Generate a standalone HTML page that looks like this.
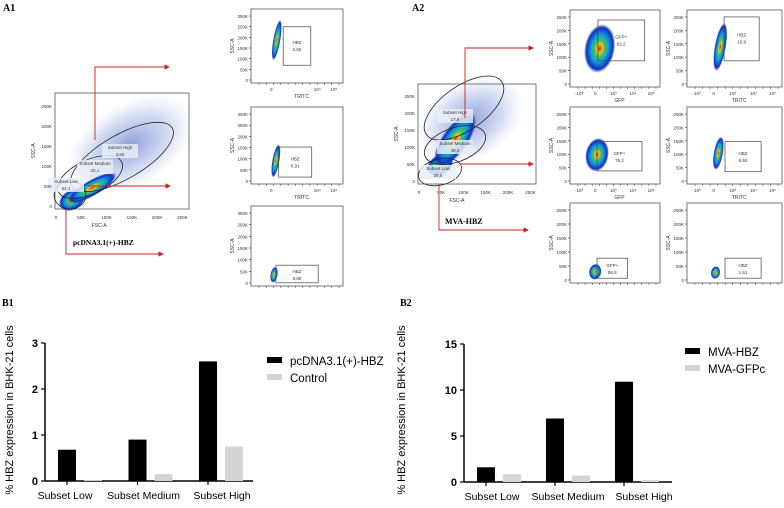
<!DOCTYPE html>
<html><head><meta charset="utf-8"><style>
body{margin:0;background:#fff}
svg{display:block;font-family:"Liberation Sans",sans-serif}
</style></head><body>
<svg id="s" width="784" height="508" viewBox="0 0 784 508">
<defs>
<radialGradient id="heat">
<stop offset="0" stop-color="#e02010"/><stop offset="0.18" stop-color="#f0c020"/><stop offset="0.35" stop-color="#40c060"/><stop offset="0.55" stop-color="#10a0e0"/><stop offset="0.85" stop-color="#1030c0"/><stop offset="1" stop-color="#1030c0" stop-opacity="0"/>
</radialGradient>
<radialGradient id="cloud">
<stop offset="0" stop-color="#3050c0" stop-opacity="0.55"/><stop offset="0.6" stop-color="#6080d0" stop-opacity="0.28"/><stop offset="1" stop-color="#a0b0e0" stop-opacity="0"/>
</radialGradient>
<marker id="arr" markerWidth="6" markerHeight="6" refX="5" refY="3" orient="auto"><path d="M0,0 L6,3 L0,6 z" fill="#d02020"/></marker>
</defs>
<text x="3" y="11" font-family="Liberation Serif" font-weight="bold" font-size="10">A1</text>
<text x="412" y="11" font-family="Liberation Serif" font-weight="bold" font-size="10">A2</text>
<text x="2" y="306" font-family="Liberation Serif" font-weight="bold" font-size="10">B1</text>
<text x="400" y="306" font-family="Liberation Serif" font-weight="bold" font-size="10">B2</text>
<g id="flow"></g>
<g id="b1"></g>
<g id="b2"></g>
</svg>
<script>
// ---- Bar chart data ----
const categories = ["Subset Low", "Subset Medium", "Subset High"];
const b1Series1 = [0.68, 0.9, 2.6];
const b1Series2 = [0.02, 0.15, 0.75];
const b1Ticks = [0, 1, 2, 3];
const b1Legend = ["pcDNA3.1(+)-HBZ", "Control"];
const b2Series1 = [1.6, 6.9, 10.9];
const b2Series2 = [0.85, 0.7, 0.2];
const b2Ticks = [0, 5, 10, 15];
const b2Legend = ["MVA-HBZ", "MVA-GFPc"];

const NS = "http://www.w3.org/2000/svg";
function mk(tag, attrs, parent, txt){
  const e = document.createElementNS(NS, tag);
  for (const k in attrs) e.setAttribute(k, attrs[k]);
  if (txt !== undefined) e.textContent = txt;
  parent.appendChild(e);
  return e;
}

function barChart(g, cfg, s1, s2, ticks, legend){
  const yScale = v => cfg.y0 - (v / cfg.max) * (cfg.y0 - cfg.yTop);
  const xBand = i => cfg.x0 + cfg.firstOff + i * cfg.step;
  let e = mk("line", {x1:cfg.x0, y1:cfg.yTop, x2:cfg.x0, y2:cfg.y0, stroke:"#000", "stroke-width":1.5}, g);
  
  
  e = mk("line", {x1:cfg.x0, y1:cfg.y0, x2:cfg.xEnd, y2:cfg.y0, stroke:"#000", "stroke-width":1.5}, g);
  
  
  ticks.forEach(t => {
    const y = yScale(t);
    mk("line", {x1:cfg.x0-4, y1:y, x2:cfg.x0, y2:y, stroke:"#000", "stroke-width":1.2}, g);
    const lt = mk("text", {x:cfg.x0-7, y:y+4, "font-size":11, "font-weight":"bold", "text-anchor":"end"}, g, t);
    
    
  });
  categories.forEach((c, i) => {
    const bx = xBand(i);
    const r1 = mk("rect", {x:bx, y:yScale(s1[i]), width:cfg.bw, height:cfg.y0 - yScale(s1[i]), fill:"#000"}, g);
    
    
    const r2 = mk("rect", {x:bx + cfg.bw + cfg.gap, y:yScale(s2[i]), width:cfg.bw, height:Math.max(0, cfg.y0 - yScale(s2[i])), fill:"#d4d4d4"}, g);
    
    
    const cx = bx + cfg.bw/2;
    mk("line", {x1:cx, y1:cfg.y0, x2:cx, y2:cfg.y0+4, stroke:"#000", "stroke-width":1.2}, g);
    const lx = cfg.labelStart + i * cfg.labelStep;
    const lt = mk("text", {x:lx, y:cfg.y0+18, "font-size":10.5, "text-anchor":"middle"}, g, c);
    
    
  });
  const yt = mk("text", {x:0, y:0, "font-size":11, "text-anchor":"middle", transform:`translate(${cfg.titleX},${cfg.titleY}) rotate(-90)`}, g, "% HBZ expression in BHK-21 cells");
  
  
  legend.forEach((l, i) => {
    const ly = cfg.legY + i * 17;
    const r = mk("rect", {x:cfg.legX, y:ly-5, width:15, height:6, fill: i ? "#d4d4d4" : "#000"}, g);
    
    
    const t = mk("text", {x:cfg.legX+23, y:ly+3, "font-size":11.5}, g, l);
    
    
  });
}
barChart(document.getElementById("b1"),
  {x0:45, y0:481, yTop:343, max:3, xEnd:253, firstOff:13, step:70.5, bw:18, gap:8, labelStart:65, labelStep:78.5, titleX:13, titleY:410, legX:267, legY:362},
  b1Series1, b1Series2, b1Ticks, b1Legend);
barChart(document.getElementById("b2"),
  {x0:464, y0:482, yTop:344, max:15, xEnd:672, firstOff:13, step:69, bw:18, gap:8, labelStart:492, labelStep:76, titleX:405, titleY:410, legX:685, legY:353},
  b2Series1, b2Series2, b2Ticks, b2Legend);

// ---- Flow cytometry panels (illustrative) ----
const flow = document.getElementById("flow");
function smallPlot(name, x, y, w, h, yLabels, xLabels, xTitle, blob, gate, gateText){
  const g = mk("g", {}, flow);
  
  
  mk("rect", {x, y, width:w, height:h, fill:"#fff", stroke:"#555", "stroke-width":0.8}, g);
  yLabels.forEach((l, i) => {
    const yy = y + h - 3 - i * (h - 10) / (yLabels.length - 1);
    mk("line", {x1:x-2, y1:yy, x2:x, y2:yy, stroke:"#333", "stroke-width":0.6}, g);
    mk("text", {x:x-3, y:yy+2, "font-size":4.5, "text-anchor":"end", fill:"#333"}, g, l);
  });
  mk("text", {x:0, y:0, "font-size":5, "text-anchor":"middle", fill:"#333", transform:`translate(${x-17},${y+h/2}) rotate(-90)`}, g, "SSC-A");
  xLabels.forEach(([fx, l]) => {
    mk("text", {x:x + fx*w, y:y+h+8, "font-size":4.5, "text-anchor":"middle", fill:"#333"}, g, l);
  });
  for (let i = 0; i < 12; i++) mk("line", {x1:x+8+i*(w-12)/11, y1:y+h, x2:x+8+i*(w-12)/11, y2:y+h+2, stroke:"#333", "stroke-width":0.5}, g);
  if (xTitle) mk("text", {x:x + w*0.55, y:y+h+15, "font-size":5, "text-anchor":"middle", fill:"#333"}, g, xTitle);
  mk("ellipse", {cx:x+blob[0]*w, cy:y+blob[1]*h, rx:blob[2]*w, ry:blob[3]*h, fill:"url(#heat)", transform:`rotate(10 ${x+blob[0]*w} ${y+blob[1]*h})`}, g);
  const gx = x + gate[0]*w, gy = y + gate[1]*h, gw = (gate[2]-gate[0])*w, gh = (gate[3]-gate[1])*h;
  mk("rect", {x:gx, y:gy, width:gw, height:gh, fill:"none", stroke:"#444", "stroke-width":0.7}, g);
  mk("text", {x:gx+gw*0.5, y:gy+gh*0.45, "font-size":4.5, "text-anchor":"middle", fill:"#333"}, g, gateText[0]);
  mk("text", {x:gx+gw*0.5, y:gy+gh*0.45+7, "font-size":4.5, "text-anchor":"middle", fill:"#333"}, g, gateText[1]);
}
const y350 = ["0","50K","100K","150K","200K","250K","350K"];
const y250 = ["0","50K","100K","150K","200K","250K"];
const xT = [[0.72,"10⁴"],[0.9,"10⁵"],[0.22,"0"]];
const xG = [[0.1,"-10³"],[0.28,"0"],[0.48,"10³"],[0.7,"10⁴"],[0.9,"10⁵"]];
smallPlot("a1-plot-high", 251, 9, 92, 74, y350, xT, "TRITC", [0.28,0.42,0.04,0.28], [0.35,0.24,0.65,0.76], ["HBZ","2,60"]);
smallPlot("a1-plot-medium", 251, 107, 92, 77, y350, xT, "TRITC", [0.27,0.7,0.04,0.22], [0.3,0.52,0.66,0.91], ["HBZ","0,91"]);
smallPlot("a1-plot-low", 251, 206, 92, 80, y350, [], "", [0.25,0.86,0.04,0.1], [0.27,0.74,0.73,0.96], ["HBZ","0,88"]);
smallPlot("a2-gfp-high", 570, 10, 90, 77, y250, xG, "GFP", [0.33,0.5,0.17,0.32], [0.31,0.13,0.83,0.66], ["GFP+","92,2"]);
smallPlot("a2-gfp-medium", 570, 107, 90, 77, y250, xG, "GFP", [0.3,0.62,0.13,0.22], [0.3,0.45,0.8,0.83], ["GFP+","76,2"]);
smallPlot("a2-gfp-low", 570, 203, 90, 80, y250, [], "", [0.28,0.86,0.07,0.1], [0.3,0.69,0.64,0.94], ["GFP+","58,8"]);
smallPlot("a2-hbz-high", 687, 10, 95, 77, y250, xG, "TRITC", [0.35,0.48,0.06,0.32], [0.39,0.09,0.76,0.66], ["HBZ","10,9"]);
smallPlot("a2-hbz-medium", 687, 107, 95, 77, y250, xG, "TRITC", [0.33,0.6,0.05,0.22], [0.4,0.45,0.78,0.84], ["HBZ","6,60"]);
smallPlot("a2-hbz-low", 687, 203, 95, 80, y250, [], "", [0.3,0.87,0.05,0.08], [0.4,0.69,0.78,0.94], ["HBZ","1,61"]);

function mainPlot(name, x, y, w, h, cloud, hot, ells, labels){
  const g = mk("g", {}, flow);
  
  
  mk("rect", {x, y, width:w, height:h, fill:"#fff", stroke:"#555", "stroke-width":0.8}, g);
  mk("ellipse", {cx:cloud[0], cy:cloud[1], rx:cloud[2], ry:cloud[3], fill:"url(#cloud)", transform:`rotate(-30 ${cloud[0]} ${cloud[1]})`}, g);
  hot.forEach(hh => mk("ellipse", {cx:hh[0], cy:hh[1], rx:hh[2], ry:hh[3], fill:"url(#heat)", transform:`rotate(${hh[4]} ${hh[0]} ${hh[1]})`}, g));
  ells.forEach(e => mk("ellipse", {cx:e[0], cy:e[1], rx:e[2], ry:e[3], fill:"none", stroke:"#222", "stroke-width":0.8, transform:`rotate(${e[4]} ${e[0]} ${e[1]})`}, g));
  labels.forEach(l => {
    mk("rect", {x:l[0]-18, y:l[1]-5, width:36, height:14, fill:"#e8eef8", opacity:0.85}, g);
    mk("text", {x:l[0], y:l[1], "font-size":4.5, "text-anchor":"middle", fill:"#333"}, g, l[2]);
    mk("text", {x:l[0], y:l[1]+7, "font-size":4.5, "text-anchor":"middle", fill:"#333"}, g, l[3]);
  });
  const yl = ["0","50K","100K","150K","200K","250K"];
  yl.forEach((t, i) => {
    const yy = y + h - 3 - i * (h - 10) / 5.3;
    mk("text", {x:x-3, y:yy+2, "font-size":4.5, "text-anchor":"end", fill:"#333"}, g, t);
  });
  yl.forEach((t, i) => {
    mk("text", {x:x + 1 + i * w / 5.3, y:y+h+10, "font-size":4.5, "text-anchor":"middle", fill:"#333"}, g, t);
  });
  mk("text", {x:x+w*0.33, y:y+h+18, "font-size":5, "text-anchor":"middle", fill:"#333"}, g, "FSC-A");
  mk("text", {x:0, y:0, "font-size":5, "text-anchor":"middle", fill:"#333", transform:`translate(${x-20},${y+h/2}) rotate(-90)`}, g, "SSC-A");
}
mainPlot("a1-main-scatter", 55, 93, 134, 116, [130,145,70,42], [[72,200,14,10,-30],[92,188,28,8,-30]],
  [[122,157,58,22,-30],[90,177,35,17,-25],[70,195,16,14,0]],
  [[120,149,"Subset High","3,60"],[95,165,"Subset Medium","25,1"],[66,183,"Subset Low","64,1"]]);
mainPlot("a2-main-scatter", 418, 84, 118, 100, [470,120,58,40], [[440,165,14,10,-30],[455,140,32,13,-55]],
  [[464,108,46,22,-35],[455,145,32,17,-20],[440,172,22,13,-15]],
  [[455,114,"Subset High","17,9"],[455,145,"Subset Medium","46,2"],[438,170,"Subset Low","26,5"]]);

// arrows
function arrow(name, pts){
  const p = mk("polyline", {points:pts, fill:"none", stroke:"#d02020", "stroke-width":0.9, "marker-end":"url(#arr)"}, flow);
  
  
}
arrow("a1-arrow-high", "95,140 95,67 169,67");
arrow("a1-arrow-medium", "88,186 170,186");
arrow("a1-arrow-low", "66,210 66,254 163,254");
arrow("a2-arrow-high", "465,118 465,48 533,48");
arrow("a2-arrow-medium", "460,164 533,164");
arrow("a2-arrow-low", "439,184 439,230 528,230");
let t = mk("text", {x:73, y:245, "font-size":7.5, "font-weight":"bold", "font-family":"Liberation Serif"}, flow, "pcDNA3.1(+)-HBZ");


t = mk("text", {x:445, y:224, "font-size":8, "font-weight":"bold", "font-family":"Liberation Serif"}, flow, "MVA-HBZ");


</script>
</body></html>
